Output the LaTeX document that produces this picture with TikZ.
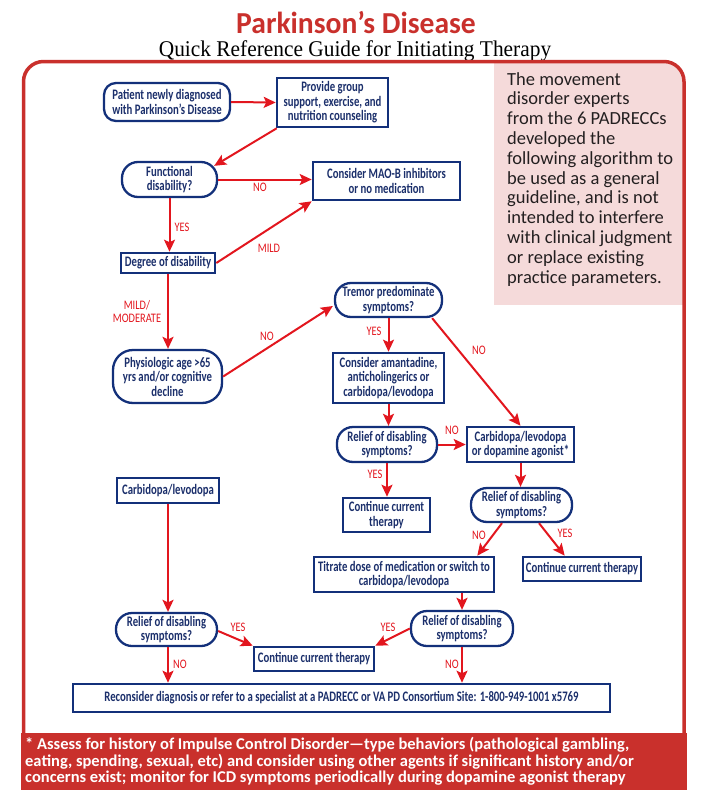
\documentclass[tikz,border=0pt]{standalone}
\usepackage{fontspec}
\setmainfont{Carlito}
\newfontfamily\nodef[FakeStretch=0.74]{Carlito}
\newfontfamily\labf[FakeStretch=0.8]{Carlito}
\newfontfamily\footf{Carlito}
\newfontfamily\pinkf{Carlito}
\newfontfamily\titf[FakeStretch=0.97]{Carlito}
\newfontfamily\subf[FakeStretch=0.95]{Liberation Serif}
\usetikzlibrary{arrows.meta,calc}

\definecolor{navy}{HTML}{13307A}
\definecolor{navytext}{HTML}{1B2F6B}
\definecolor{arrred}{HTML}{E2161E}
\definecolor{framered}{HTML}{C9302C}
\definecolor{pinkbg}{HTML}{F5DADA}
\definecolor{pinktext}{HTML}{231F20}

\tikzset{
  box/.style={draw=navy, line width=2.6pt, fill=white, text=navytext, align=center,
    font=\nodef\bfseries\fontsize{14.5}{14.5}\selectfont, inner sep=0pt},
  rbox/.style={box, rounded corners=16pt, line width=2.3pt},
  arr/.style={draw=arrred, line width=2pt, -{Stealth[length=12pt,width=11pt,inset=2.5pt]}},
  lab/.style={text=arrred, font=\labf\fontsize{13}{13}\selectfont, inner sep=0pt, align=center},
}

\begin{document}
\begin{tikzpicture}[x=1pt,y=-1pt]
\useasboundingbox (0,0) rectangle (707,795);

% title
\node[anchor=base, text=framered, font=\titf\bfseries\fontsize{30.5}{32}\selectfont, inner sep=0pt] (title) at (356,33) {Parkinson’s Disease};
\node[anchor=base, text=black, font=\subf\fontsize{22.5}{24}\selectfont, inner sep=0pt] (subtitle) at (355,56) {Quick Reference Guide for Initiating Therapy};

% pink note box (clipped to frame)
\begin{scope}
\clip[rounded corners=20pt] (23.5,800) -- (23.5,61.5) -- (684,61.5) -- (684,800) -- cycle;
\fill[pinkbg] (494,55) rectangle (690,305);
\end{scope}
\node[anchor=north west, align=left, text=pinktext, inner sep=0pt,
  font=\pinkf\fontsize{18.5}{19.8}\selectfont] (note) at (507,72)
  {The movement\\disorder experts\\from the 6 PADRECCs\\developed the\\following algorithm to\\be used as a general\\guideline, and is not\\intended to interfere\\with clinical judgment\\or replace existing\\practice parameters.};

% outer frame
\draw[framered, line width=3.5pt, rounded corners=20pt] (23.5,770) -- (23.5,61.5) -- (684,61.5) -- (684,770);

% footer
\fill[framered] (21,733) rectangle (687,790);
\node[anchor=west, align=left, text=white, inner sep=0pt,
  font=\footf\bfseries\fontsize{16.5}{16.5}\selectfont] (foot) at (25,761.5)
  {* Assess for history of Impulse Control Disorder—type behaviors (pathological gambling,\\eating, spending, sexual, etc) and consider using other agents if significant history and/or\\concerns exist; monitor for ICD symptoms periodically during dopamine agonist therapy};

% nodes
\node[rbox, rounded corners=12pt, minimum width=126pt, minimum height=38pt] (pat) at (167,102) {Patient newly diagnosed\\with Parkinson’s Disease};
\node[box, minimum width=111pt, minimum height=49pt] (prov) at (332.5,102.5) {Provide group\\support, exercise, and\\nutrition counseling};
\node[rbox, minimum width=95pt, minimum height=35pt] (func) at (169.5,179.5) {Functional\\disability?};
\node[box, minimum width=147pt, minimum height=38pt] (mao) at (386.5,181) {Consider MAO-B inhibitors\\or no medication};
\node[box, minimum width=94pt, minimum height=20pt] (deg) at (168,263) {Degree of disability};
\node[rbox, minimum width=107pt, minimum height=34pt] (trem) at (388.5,300) {Tremor predominate\\symptoms?};
\node[rbox, rounded corners=20pt, minimum width=109pt, minimum height=53pt] (phys) at (167.5,376.5) {Physiologic age >65\\yrs and/or cognitive\\decline};
\node[box, minimum width=111pt, minimum height=50pt] (amant) at (388.5,378) {Consider amantadine,\\anticholingerics or\\carbidopa/levodopa};
\node[rbox, minimum width=100pt, minimum height=35pt] (rel1) at (387,444.5) {Relief of disabling\\symptoms?};
\node[box, minimum width=102pt, minimum height=25pt] (carb) at (168,490.5) {Carbidopa/levodopa};
\node[box, minimum width=87pt, minimum height=34pt] (cont1) at (386.5,515) {Continue current\\therapy};
\node[box, minimum width=107pt, minimum height=35pt] (cdopa) at (520.5,444.5) {Carbidopa/levodopa\\or dopamine agonist*};
\node[rbox, minimum width=101pt, minimum height=34pt] (rel2) at (521.5,505) {Relief of disabling\\symptoms?};
\node[box, minimum width=180pt, minimum height=35pt] (titr) at (404,574.5) {Titrate dose of medication or switch to\\carbidopa/levodopa};
\node[box, minimum width=118pt, minimum height=24pt] (cont2) at (582,569) {Continue current therapy};
\node[rbox, minimum width=101pt, minimum height=33pt] (rel3) at (166.5,629.5) {Relief of disabling\\symptoms?};
\node[box, minimum width=120pt, minimum height=24pt] (cont3) at (314,659) {Continue current therapy};
\node[rbox, minimum width=102pt, minimum height=35pt] (rel4) at (462,628.5) {Relief of disabling\\symptoms?};
\node[box, minimum width=537pt, minimum height=28pt] (recon) at (341.5,698) {Reconsider diagnosis or refer to a specialist at a PADRECC or VA PD Consortium Site: 1-800-949-1001 x5769};

% arrows
\draw[arr] (pat.east) -- (prov.west);
\draw[arr] ($(prov.south west)+(1,0)$) -- ($(func.north east)+(-4,5)$);
\draw[arr] (func.east) -- (func.east -| mao.west);
\draw[arr] (func.south) -- (func.south |- deg.north);
\draw[arr] (deg.east) -- (mao.south west);
\draw[arr] (deg.south) -- (deg.south |- phys.north);
\draw[arr] (phys.east) -- ($(trem.west)+(-1,6)$);
\draw[arr] (trem.south) -- (trem.south |- amant.north);
\draw[arr] ($(trem.south east)+(-11,0)$) -- (cdopa.north);
\draw[arr] (amant.south) -- (amant.south |- rel1.north);
\draw[arr] (rel1.east) -- (rel1.east -| cdopa.west);
\draw[arr] (rel1.south) -- (rel1.south |- cont1.north);
\draw[arr] (cdopa.south) -- (cdopa.south |- rel2.north);
\draw[arr] ($(rel2.south)+(-19.5,0)$) -- ($(titr.north east)+(-18,0)$);
\draw[arr] ($(rel2.south)+(17.5,0)$) -- ($(cont2.north west)+(43,0)$);
\draw[arr] (rel4.north |- titr.south) -- (rel4.north);
\draw[arr] (carb.south) -- (carb.south |- rel3.north);
\draw[arr] ($(rel3.east)+(0,1.5)$) -- (cont3.north west);
\draw[arr] (rel4.west) -- (cont3.north east);
\draw[arr] (carb.south |- rel3.south) -- (carb.south |- recon.north);
\draw[arr] (rel4.south) -- (rel4.south |- recon.north);

% labels
\node[lab] (l1) at (260,187) {NO};
\node[lab] (l2) at (182,227) {YES};
\node[lab] (l3) at (269,248) {MILD};
\node[lab] (l4) at (137,311.5) {MILD/\\MODERATE};
\node[lab] (l5) at (267,336) {NO};
\node[lab] (l6) at (374,331) {YES};
\node[lab] (l7) at (479,350) {NO};
\node[lab] (l8) at (452,430) {NO};
\node[lab] (l9) at (375,474) {YES};
\node[lab] (l10) at (479,535) {NO};
\node[lab] (l11) at (565,533) {YES};
\node[lab] (l12) at (238,627) {YES};
\node[lab] (l13) at (388,627) {YES};
\node[lab] (l14) at (180,664) {NO};
\node[lab] (l15) at (452,664) {NO};
\end{tikzpicture}
\end{document}
